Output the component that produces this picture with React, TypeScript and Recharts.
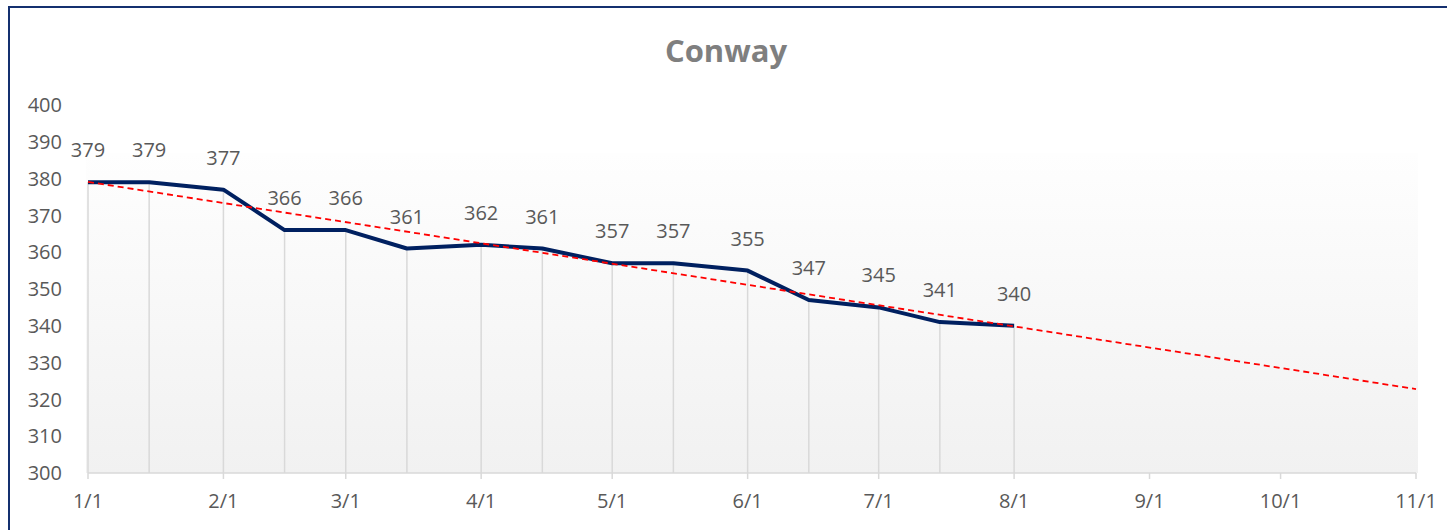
import React from "react";
import {
  ComposedChart,
  Line,
  XAxis,
  YAxis,
  ReferenceLine,
  LabelList,
} from "recharts";

const title = "Conway";
const dates = [
  "2023-01-01", "2023-01-15", "2023-02-01", "2023-02-15", "2023-03-01",
  "2023-03-15", "2023-04-01", "2023-04-15", "2023-05-01", "2023-05-15",
  "2023-06-01", "2023-06-15", "2023-07-01", "2023-07-15", "2023-08-01",
];
const values = [379, 379, 377, 366, 366, 361, 362, 361, 357, 357, 355, 347, 345, 341, 340];
const tickDates = [
  "2023-01-01", "2023-02-01", "2023-03-01", "2023-04-01", "2023-05-01", "2023-06-01",
  "2023-07-01", "2023-08-01", "2023-09-01", "2023-10-01", "2023-11-01",
];
const trendDates = ["2023-01-01", "2023-11-01"];
const trendValues = [379.1, 322.8];
const yTicks = [300, 310, 320, 330, 340, 350, 360, 370, 380, 390, 400];

const DAY = 86400000;
const origin = Date.parse(dates[0]);
const toDay = (s: string) => Math.round((Date.parse(s) - origin) / DAY);
const fmt = (s: string) => {
  const d = new Date(s + "T00:00:00Z");
  return `${d.getUTCMonth() + 1}/${d.getUTCDate()}`;
};

const data = dates.map((d, i) => ({ day: toDay(d), value: values[i] }));
const trendData = trendDates.map((d, i) => ({ day: toDay(d), trend: trendValues[i] }));
const xTicks = tickDates.map(toDay);
const tickLabel: Record<number, string> = {};
tickDates.forEach((d) => (tickLabel[toDay(d)] = fmt(d)));

const FONT = "'Open Sans', 'Liberation Sans', sans-serif";
const BORDER = "#14306f";

export default function App() {
  return (
    <div style={{ position: "relative", width: 1439, height: 522, fontFamily: FONT }}>
      <div
        style={{
          position: "absolute",
          left: 78,
          top: 145,
          width: 1332,
          height: 320,
          background: "linear-gradient(to bottom, #fefefe 0%, #f1f1f1 100%)",
        }}
      />
      <div
        style={{
          position: "absolute",
          left: 0,
          width: 1440,
          top: 21,
          textAlign: "center",
          fontSize: 31,
          fontWeight: 700,
          color: "#7f7f7f",
        }}
      >
        <span style={{ position: "relative", left: -2 }}>{title}</span>
      </div>
      <div style={{ position: "absolute", left: 0, top: 0 }}>
        <ComposedChart
          width={1439}
          height={522}
          data={data}
          margin={{ top: 97, right: 31, left: 0, bottom: 0 }}
        >
          <XAxis
            dataKey="day"
            type="number"
            domain={[0, 304]}
            ticks={xTicks}
            interval={0}
            tickFormatter={(v: number) => tickLabel[v] ?? ""}
            height={57}
            axisLine={{ stroke: "#d9d9d9", strokeWidth: 1.5 }}
            tickLine={{ stroke: "#d9d9d9", strokeWidth: 1.5 }}
            tickSize={6}
            tickMargin={15}
            tick={{ fill: "#595959", fontSize: 20, fontFamily: FONT }}
          />
          <YAxis
            type="number"
            domain={[300, 400]}
            ticks={yTicks}
            interval={0}
            width={80}
            axisLine={false}
            tickLine={false}
            tickSize={0}
            tickMargin={26}
            tick={{ fill: "#595959", fontSize: 20, fontFamily: FONT }}
          />
          {data.map((p) => (
            <ReferenceLine
              key={p.day}
              segment={[
                { x: p.day, y: 300 },
                { x: p.day, y: p.value },
              ]}
              stroke="#d9d9d9"
              strokeWidth={1.5}
            />
          ))}
          <Line
            dataKey="value"
            stroke="#002060"
            strokeWidth={4}
            dot={false}
            activeDot={false}
            isAnimationActive={false}
            strokeLinejoin="round"
          >
            <LabelList
              dataKey="value"
              position="top"
              offset={25}
              fill="#595959"
              fontSize={20}
              fontFamily={FONT}
            />
          </Line>
          <Line
            data={trendData}
            dataKey="trend"
            stroke="#ff0000"
            strokeWidth={1.8}
            strokeDasharray="6 4"
            dot={false}
            activeDot={false}
            isAnimationActive={false}
          />
        </ComposedChart>
      </div>
      <div
        style={{
          position: "fixed",
          left: 8,
          top: 6,
          width: 1460,
          height: 2,
          background: BORDER,
          zIndex: 10,
        }}
      />
      <div
        style={{
          position: "fixed",
          left: 8,
          top: 6,
          width: 2,
          height: 540,
          background: BORDER,
          zIndex: 10,
        }}
      />
    </div>
  );
}
